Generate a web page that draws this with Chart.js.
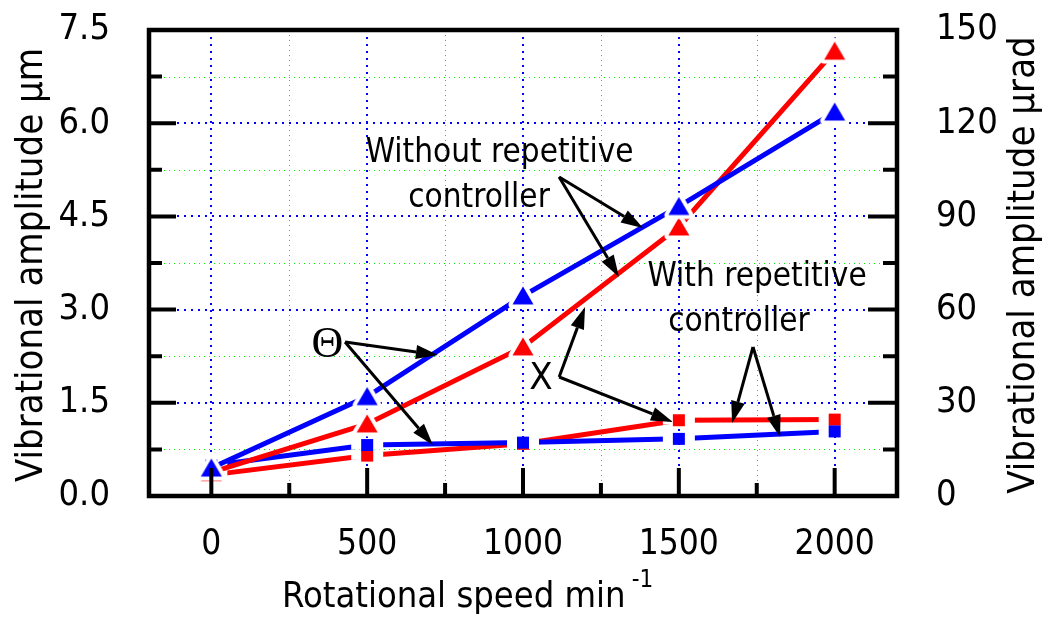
<!DOCTYPE html>
<html>
<head>
<meta charset="utf-8">
<script src="https://cdn.jsdelivr.net/npm/chart.js@4"></script>
<style>
  html, body { margin: 0; padding: 0; background: #fff; }
  #wrap { width: 1049px; height: 619px; }
</style>
</head>
<body>
<div id="wrap"><canvas id="myChart" width="1049" height="619"></canvas></div>
<script>
// values (left axis units, µm)
const speed = [0, 500, 1000, 1500, 2000];
const thetaWithout = [0.45, 1.60, 3.22, 4.66, 6.18];
const xWithout = [0.38, 1.16, 2.40, 4.33, 7.16];
const thetaWith = [0.49, 0.82, 0.86, 0.92, 1.04];
const xWith = [0.34, 0.65, 0.84, 1.22, 1.23];

const xTicks = [0, 500, 1000, 1500, 2000];
const xMinor = [250, 750, 1250, 1750];
const yTicks = [0, 1.5, 3.0, 4.5, 6.0, 7.5];
const yMinor = [0.75, 2.25, 3.75, 5.25, 6.75];
const y2Ticks = [0, 30, 60, 90, 120, 150];

const FONT = "'DejaVu Sans Condensed', 'DejaVu Sans', sans-serif";
const BLUE = '#0000ff';
const RED = '#ff0000';

function marker(kind, color) {
  const c = document.createElement('canvas');
  c.width = 40; c.height = 40;
  const g = c.getContext('2d');
  g.translate(20, 20);
  if (kind === 'tri') {
    g.beginPath();
    g.moveTo(0, -9.5); g.lineTo(10.5, 8.5); g.lineTo(-10.5, 8.5); g.closePath();
    g.lineJoin = 'round';
    g.strokeStyle = '#fff'; g.lineWidth = 8; g.stroke();
    g.fillStyle = color; g.fill();
  } else {
    g.fillStyle = '#fff'; g.fillRect(-16, -4.5, 32, 9);
    g.fillStyle = color; g.fillRect(-6, -6, 12, 12);
  }
  return c;
}

// annotation texts and arrows, in data units
const labels = [
  { text: 'Without repetitive', x: 925, y: 5.375 },
  { text: 'controller', x: 859, y: 4.65 },
  { text: 'With repetitive', x: 1751, y: 3.38 },
  { text: 'controller', x: 1693, y: 2.655 }
];
const arrows = [
  [1116, 5.134, 1385, 4.313], [1116, 5.134, 1308, 3.525],
  [429, 2.478, 727, 2.269], [429, 2.478, 711, 0.821],
  [1116, 1.915, 1199, 3.042], [1116, 1.915, 1481, 1.191],
  [1738, 2.398, 1671, 1.175], [1738, 2.398, 1825, 0.95]
];

function dots(ctx, x1, y1, x2, y2, color, w, dash) {
  ctx.save();
  ctx.strokeStyle = color; ctx.lineWidth = w; ctx.setLineDash(dash);
  ctx.beginPath(); ctx.moveTo(x1, y1); ctx.lineTo(x2, y2); ctx.stroke();
  ctx.restore();
}

const deco = {
  id: 'deco',
  beforeDatasetsDraw(chart) {
    const { ctx, chartArea: a, scales } = chart;
    const G = '#00f000';
    xMinor.forEach(v => { const p = Math.round(scales.x.getPixelForValue(v)) + 0.5; dots(ctx, p, a.top, p, a.bottom, G, 1, [1, 4]); });
    yMinor.forEach(v => { const p = Math.round(scales.y.getPixelForValue(v)) + 0.5; dots(ctx, a.left, p, a.right, p, G, 1, [1, 4]); });
    xTicks.forEach(v => { const p = Math.round(scales.x.getPixelForValue(v)); dots(ctx, p, a.top, p, a.bottom, BLUE, 2, [2, 5]); });
    yTicks.slice(1, -1).forEach(v => { const p = Math.round(scales.y.getPixelForValue(v)); dots(ctx, a.left, p, a.right, p, BLUE, 2, [2, 5]); });
  },
  afterDatasetsDraw(chart) {
    const { ctx, chartArea: a, scales } = chart;
    ctx.save();
    ctx.strokeStyle = '#000';
    ctx.lineWidth = 4;
    ctx.beginPath();
    xTicks.forEach(v => { const p = scales.x.getPixelForValue(v); ctx.moveTo(p, a.bottom); ctx.lineTo(p, a.bottom - 28); });
    xMinor.forEach(v => { const p = scales.x.getPixelForValue(v); ctx.moveTo(p, a.bottom); ctx.lineTo(p, a.bottom - 13); });
    yTicks.forEach(v => {
      const p = scales.y.getPixelForValue(v);
      ctx.moveTo(a.left, p); ctx.lineTo(a.left + 27, p);
      ctx.moveTo(a.right, p); ctx.lineTo(a.right - 29, p);
    });
    yMinor.forEach(v => {
      const p = scales.y.getPixelForValue(v);
      ctx.moveTo(a.left, p); ctx.lineTo(a.left + 13, p);
      ctx.moveTo(a.right, p); ctx.lineTo(a.right - 14, p);
    });
    ctx.stroke();
    ctx.lineWidth = 4.5;
    ctx.strokeRect(a.left, a.top, a.right - a.left, a.bottom - a.top);

    // arrows
    ctx.lineWidth = 3;
    ctx.fillStyle = '#000';
    arrows.forEach(([x1, y1, x2, y2]) => {
      const px1 = scales.x.getPixelForValue(x1), py1 = scales.y.getPixelForValue(y1);
      const px2 = scales.x.getPixelForValue(x2), py2 = scales.y.getPixelForValue(y2);
      const ang = Math.atan2(py2 - py1, px2 - px1);
      const L = 22, W = 7;
      const bx = px2 - L * Math.cos(ang), by = py2 - L * Math.sin(ang);
      ctx.beginPath(); ctx.moveTo(px1, py1); ctx.lineTo(bx, by); ctx.stroke();
      ctx.beginPath();
      ctx.moveTo(px2, py2);
      ctx.lineTo(bx + W * Math.sin(ang), by - W * Math.cos(ang));
      ctx.lineTo(bx - W * Math.sin(ang), by + W * Math.cos(ang));
      ctx.closePath(); ctx.fill();
    });

    // texts
    ctx.fillStyle = '#000';
    ctx.textAlign = 'center';
    ctx.textBaseline = 'alphabetic';
    ctx.font = '33px ' + FONT;
    labels.forEach(l => ctx.fillText(l.text, scales.x.getPixelForValue(l.x), scales.y.getPixelForValue(l.y)));
    ctx.textBaseline = 'middle';
    ctx.font = "44px 'Liberation Serif', 'DejaVu Serif', serif";
    ctx.fillText('\u0398', scales.x.getPixelForValue(372), scales.y.getPixelForValue(2.43));
    ctx.font = '38px ' + FONT;
    ctx.fillText('X', scales.x.getPixelForValue(1058), scales.y.getPixelForValue(1.88));
    ctx.restore();
  },
  afterDraw(chart) {
    const { ctx } = chart;
    ctx.save();
    ctx.fillStyle = '#000';
    ctx.textAlign = 'center';
    ctx.textBaseline = 'middle';
    ctx.font = '38px ' + FONT;
    ctx.save(); ctx.translate(32, 265); ctx.rotate(-Math.PI / 2);
    ctx.fillText('Vibrational amplitude \u00b5m', 0, 0); ctx.restore();
    ctx.save(); ctx.translate(1024, 265); ctx.rotate(-Math.PI / 2);
    ctx.fillText('Vibrational amplitude \u00b5rad', 0, 0); ctx.restore();
    ctx.textAlign = 'left';
    ctx.textBaseline = 'alphabetic';
    ctx.font = '36px ' + FONT;
    const t = 'Rotational speed min';
    ctx.fillText(t, 282, 607);
    const w = ctx.measureText(t).width;
    ctx.font = '24px ' + FONT;
    ctx.fillText('-1', 282 + w + 6, 587);
    ctx.restore();
  }
};

function series(vals, kind, color, order) {
  return {
    data: speed.map((s, i) => ({ x: s, y: vals[i] })),
    borderColor: color,
    backgroundColor: color,
    borderWidth: 5,
    pointStyle: marker(kind, color),
    pointRadius: 10,
    pointHoverRadius: 10,
    tension: 0,
    order: order,
    yAxisID: 'y'
  };
}

const noPadY = s => { s.paddingTop = 0; s.paddingBottom = 0; };

new Chart('myChart', {
  type: 'line',
  data: {
    datasets: [
      series(thetaWithout, 'tri', BLUE, 1),
      series(xWithout, 'tri', RED, 2),
      series(thetaWith, 'sq', BLUE, 3),
      series(xWith, 'sq', RED, 4)
    ]
  },
  options: {
    responsive: false,
    animation: false,
    events: [],
    layout: { padding: { top: 30, left: 0, right: 0, bottom: 0 } },
    plugins: { legend: { display: false }, tooltip: { enabled: false } },
    scales: {
      x: {
        type: 'linear', min: -200, max: 2200,
        grid: { display: false }, border: { display: false },
        afterBuildTicks: s => { s.ticks = xTicks.map(v => ({ value: v })); },
        afterFit: s => { s.height = 123; s.paddingLeft = 0; s.paddingRight = 0; },
        ticks: { color: '#000', font: { family: FONT, size: 35 }, padding: 20, maxRotation: 0, autoSkip: false, callback: v => String(v) }
      },
      y: {
        position: 'left', min: 0, max: 7.5,
        grid: { display: false }, border: { display: false },
        afterBuildTicks: s => { s.ticks = yTicks.map(v => ({ value: v })); },
        afterFit: s => { s.width = 149; noPadY(s); },
        ticks: { color: '#000', font: { family: FONT, size: 36 }, padding: 31, callback: v => v.toFixed(1) }
      },
      y2: {
        position: 'right', min: 0, max: 150,
        grid: { display: false }, border: { display: false },
        afterBuildTicks: s => { s.ticks = y2Ticks.map(v => ({ value: v })); },
        afterFit: s => { s.width = 152; noPadY(s); },
        ticks: { color: '#000', font: { family: FONT, size: 36 }, padding: 31, callback: v => String(v) }
      }
    }
  },
  plugins: [deco]
});
</script>
</body>
</html>
